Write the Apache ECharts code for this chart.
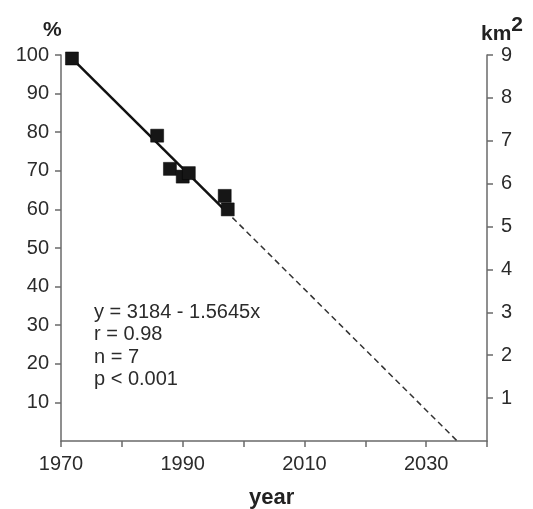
<!DOCTYPE html>
<html>
<head>
<meta charset="utf-8">
<script src="https://cdn.jsdelivr.net/npm/echarts@6/dist/echarts.min.js"></script>
<style>
  html, body { margin: 0; padding: 0; background: #fff; }
</style>
</head>
<body>
<div id="main" style="width: 533px;height: 509px;"></div>
<script>
// observed points (year, % of area)
const years = [1971.8, 1985.8, 1987.9, 1990, 1991, 1996.9, 1997.4]
const percent = [99.1, 79.1, 70.5, 68.5, 69.4, 63.5, 60.0]

// regression line y = 3184 - 1.5645x : fitted part and extrapolation
const fitYears = [1972, 1997]
const fitValues = [98.8, 59.7]
const extYears = [1997, 2035.1]
const extValues = [59.7, 0]

const statLines = ['y = 3184 - 1.5645x', 'r = 0.98', 'n = 7', 'p < 0.001']

const axisColor = '#6a6a6a'
const textColor = '#2b2b2b'
const font = 'Liberation Sans, Arial, sans-serif'

var points = years.map((y, i) => [y, percent[i]])
var fit = fitYears.map((y, i) => [y, fitValues[i]])
var ext = extYears.map((y, i) => [y, extValues[i]])

var option = {
    backgroundColor: '#fff',
    animation: false,
    grid: {
        left: 61,
        right: 46,
        top: 55,
        bottom: 68
    },
    xAxis: {
        type: 'value',
        min: 1970,
        max: 2040,
        interval: 10,
        axisLine: { lineStyle: { color: axisColor, width: 1.5 } },
        axisTick: { length: 6, lineStyle: { color: axisColor, width: 1.5 } },
        splitLine: { show: false },
        axisLabel: {
            margin: 13,
            color: textColor,
            fontFamily: font,
            fontSize: 20,
            formatter: v => (v % 20 === 10 ? String(v) : '')
        }
    },
    yAxis: [
        {
            type: 'value',
            min: 0,
            max: 100,
            interval: 10,
            axisLine: { show: true, lineStyle: { color: axisColor, width: 1.5 } },
            axisTick: { show: true, length: 6, lineStyle: { color: axisColor, width: 1.5 } },
            splitLine: { show: false },
            axisLabel: {
                showMinLabel: false,
                margin: 12,
                color: textColor,
                fontFamily: font,
                fontSize: 20
            }
        },
        {
            type: 'value',
            position: 'right',
            min: 0,
            max: 9,
            interval: 1,
            axisLine: { show: true, lineStyle: { color: axisColor, width: 1.5 } },
            axisTick: { show: true, length: 6, lineStyle: { color: axisColor, width: 1.5 } },
            splitLine: { show: false },
            axisLabel: {
                showMinLabel: false,
                margin: 14,
                color: textColor,
                fontFamily: font,
                fontSize: 20
            }
        }
    ],
    graphic: [
        {
            type: 'text', left: 43, top: 20,
            style: { text: '%', fill: '#222', font: 'bold 21px ' + font }
        },
        {
            type: 'text', left: 481, top: 15,
            style: {
                text: '{a|km}{b|2}',
                rich: {
                    a: { fill: '#222', fontFamily: font, fontWeight: 'bold', fontSize: 21, verticalAlign: 'bottom', lineHeight: 30 },
                    b: { fill: '#222', fontFamily: font, fontWeight: 'bold', fontSize: 21, verticalAlign: 'top', lineHeight: 30, padding: [0, 0, 6, 0] }
                }
            }
        },
        {
            type: 'text', left: 249, top: 487,
            style: { text: 'year', fill: '#222', font: 'bold 22px ' + font }
        },
        {
            type: 'text', left: 94, top: 301,
            style: {
                text: statLines.join('\n'),
                fill: textColor,
                fontFamily: font,
                fontSize: 20,
                lineHeight: 22.5
            }
        }
    ],
    series: [
        {
            type: 'line',
            data: fit,
            symbol: 'none',
            lineStyle: { color: '#111', width: 2.5 },
            z: 2
        },
        {
            type: 'line',
            data: ext,
            symbol: 'none',
            lineStyle: { color: '#333', width: 1.5, type: [6, 4] },
            z: 2
        },
        {
            type: 'scatter',
            data: points,
            symbol: 'rect',
            symbolSize: 13,
            itemStyle: { color: '#161616', borderColor: '#000', borderWidth: 0.5, opacity: 1 },
            z: 3
        }
    ]
};

var chartDom = document.getElementById('main');
var myChart = echarts.init(chartDom);
option && myChart.setOption(option);
</script>
</body>
</html>
